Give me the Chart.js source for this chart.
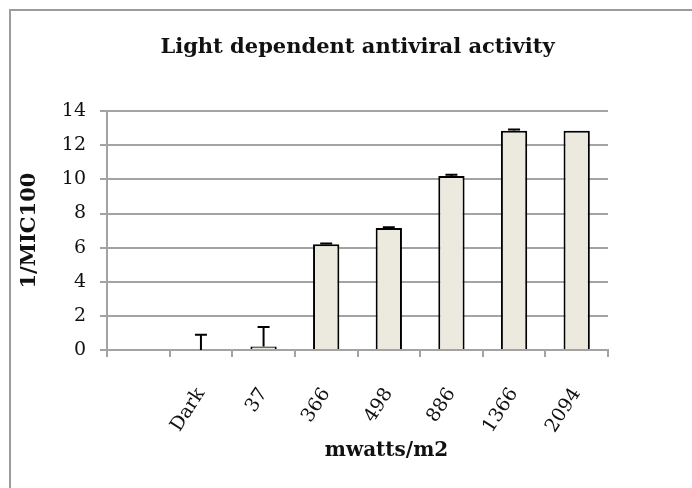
<!DOCTYPE html>
<html>
<head>
<meta charset="utf-8">
<script src="https://cdn.jsdelivr.net/npm/chart.js@4"></script>
<style>
  html, body { margin: 0; padding: 0; background: #fff; }
  #wrap { position: relative; width: 692px; height: 488px; overflow: hidden; }
  #frame { position: absolute; left: 9px; top: 9px; width: 720px; height: 520px;
           border-left: 2px solid #9c9c9c; border-top: 2px solid #9c9c9c; }
  canvas { position: absolute; left: 0; top: 0; }
</style>
</head>
<body>
<div id="wrap">
  <div id="frame"></div>
  <canvas id="chart" width="692" height="488"></canvas>
</div>
<script>
'use strict';

const categories = ['', 'Dark', '37', '366', '498', '886', '1366', '2094'];
const activity = [null, 0, 0.2, 6.2, 7.15, 10.2, 12.85, 12.85];
const errorUp = [0, 0.9, 1.15, 0.05, 0.05, 0.08, 0.08, 0];
const yTicks = [0, 2, 4, 6, 8, 10, 12, 14];
const xTitle = 'mwatts/m2';

const serif = 'DejaVu Serif';
const gridGray = '#a3a3a3';

// draws the upper error bars from the bar value through the y scale
const errorBars = {
  id: 'errorBars',
  afterDatasetsDraw(chart) {
    const ctx = chart.ctx;
    const yScale = chart.scales.y;
    const meta = chart.getDatasetMeta(0);
    ctx.save();
    ctx.strokeStyle = '#000';
    ctx.lineWidth = 2;
    for (let i = 0; i < meta.data.length; i++) {
      const value = activity[i];
      const err = errorUp[i];
      if (value === null || !err) continue;
      const bar = meta.data[i];
      const yBase = yScale.getPixelForValue(value);
      const yTop = yScale.getPixelForValue(value + err);
      ctx.beginPath();
      ctx.moveTo(bar.x, yBase);
      ctx.lineTo(bar.x, yTop);
      ctx.moveTo(bar.x - 6, yTop);
      ctx.lineTo(bar.x + 6, yTop);
      ctx.stroke();
    }
    ctx.restore();
  }
};

// the excel axis title sits a bit right of the plot centre
const xAxisTitle = {
  id: 'xAxisTitle',
  afterDraw(chart) {
    const ctx = chart.ctx;
    const area = chart.chartArea;
    ctx.save();
    ctx.fillStyle = '#111';
    ctx.font = 'bold 20px "' + serif + '"';
    ctx.textAlign = 'center';
    ctx.textBaseline = 'middle';
    ctx.fillText(xTitle, (area.left + area.right) / 2 + 29, area.bottom + 101);
    ctx.restore();
  }
};

const ctx = document.getElementById('chart').getContext('2d');
new Chart(ctx, {
  type: 'bar',
  data: {
    labels: categories,
    datasets: [{
      data: activity,
      backgroundColor: '#ECE9DE',
      borderColor: '#000',
      borderWidth: 2,
      borderSkipped: 'bottom',
      categoryPercentage: 1,
      barPercentage: 0.42
    }]
  },
  options: {
    responsive: false,
    animation: false,
    layout: { padding: { left: 0, right: 84, top: 0, bottom: 0 } },
    plugins: {
      legend: { display: false },
      tooltip: { enabled: false },
      title: {
        display: true,
        fullSize: false,
        text: 'Light dependent antiviral activity',
        color: '#111',
        font: { family: serif, size: 21, weight: 'bold' },
        padding: { top: 35, bottom: 51 }
      }
    },
    scales: {
      x: {
        grid: {
          display: true,
          drawOnChartArea: false,
          drawTicks: true,
          tickLength: 7,
          color: gridGray,
          lineWidth: 2,
          offset: true
        },
        border: { color: gridGray, width: 2 },
        ticks: {
          color: '#111',
          font: { family: serif, size: 19 },
          minRotation: 57,
          maxRotation: 57,
          autoSkip: false,
          padding: 27
        },
        title: { display: false },
        afterFit(scale) { scale.height = 138; }
      },
      y: {
        min: 0,
        max: 14,
        afterBuildTicks(scale) { scale.ticks = yTicks.map(v => ({ value: v })); },
        grid: {
          color: gridGray,
          lineWidth: 2,
          drawTicks: true,
          tickLength: 7
        },
        border: { color: gridGray, width: 2 },
        ticks: {
          color: '#111',
          font: { family: serif, size: 19 },
          padding: 14
        },
        title: {
          display: true,
          text: '1/MIC100',
          color: '#111',
          font: { family: serif, size: 21, weight: 'bold' },
          padding: { top: 17, bottom: 0 }
        },
        afterFit(scale) { scale.width = 107; }
      }
    }
  },
  plugins: [errorBars, xAxisTitle]
});
</script>
</body>
</html>
